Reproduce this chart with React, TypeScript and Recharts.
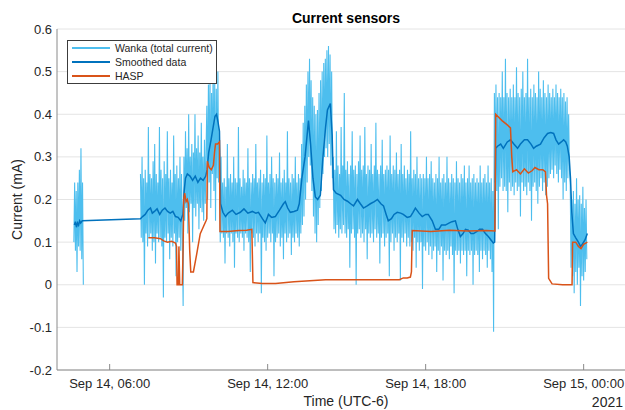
import { LineChart, Line, XAxis, YAxis, CartesianGrid, Legend } from "recharts";

// Times are hours since Sep 14 00:00 (UTC-6), values in mA.
// Wanka samples come in at a fixed rate, so each block is stored as start + values.
const WANKA_STEP = 0.03;

const wankaEarlyStart = 4.64;
const wankaEarly = [0.10, 0.24, 0.08, 0.22, 0.03, 0.24, 0.09, 0.27, 0.08, 0.32, 0.06, 0.24, 0.00];

const wankaMainStart = 7.17;
const wankaMain = [
  // 07:10 - 08:45
  0.26, 0.11, 0.30, 0.10, 0.25, 0.00, 0.27, 0.12, 0.24, 0.09,
  0.37, 0.11, 0.26, 0.12, 0.25, 0.08, 0.29, 0.10, 0.33, 0.05,
  0.26, 0.12, 0.24, 0.10, 0.37, 0.11, 0.27, 0.09, 0.25, -0.03,
  0.29, 0.11, 0.26, 0.10, 0.36, 0.12, 0.25, 0.06, 0.27, 0.11,
  0.24, 0.09, 0.35, 0.12, 0.26, 0.02, 0.28, 0.10, 0.25, 0.11,
  0.30, 0.08, 0.26, 0.12,
  // 08:45 - 09:40
  -0.05, 0.30, 0.15, 0.36, 0.18, 0.32, 0.12, 0.40, 0.17, 0.30,
  0.19, 0.33, 0.10, 0.31, 0.18, 0.40, 0.16, 0.32, 0.19, 0.35,
  0.13, 0.31, 0.18, 0.38, 0.17, 0.30, 0.15, 0.34, 0.19, 0.31,
  // 09:40 - 10:10 bump
  0.42, 0.20, 0.47, 0.24, 0.50, 0.18, 0.45, 0.26, 0.52, 0.22, 0.48, 0.15, 0.46, 0.25, 0.50, 0.24,
  // 10:10 - 13:15
  0.26, 0.10, 0.30, 0.12, 0.24, 0.11, 0.25, 0.05, 0.23, 0.12,
  0.33, 0.11, 0.25, 0.09, 0.26, 0.12, 0.24, 0.10, 0.30, 0.04,
  0.25, 0.12, 0.24, 0.11, 0.37, 0.10, 0.25, 0.12, 0.23, 0.11,
  0.27, 0.08, 0.25, 0.12, 0.24, 0.11, 0.32, 0.10, 0.25, 0.03,
  0.24, 0.12, 0.26, 0.11, 0.25, 0.09, 0.33, 0.12, 0.24, 0.10,
  0.25, 0.12, 0.27, -0.02, 0.24, 0.11, 0.26, 0.10, 0.25, 0.08,
  0.35, 0.11, 0.24, 0.12, 0.26, 0.10, 0.30, 0.12, 0.25, 0.02,
  0.24, 0.10, 0.26, 0.11, 0.25, 0.12, 0.31, 0.09, 0.24, 0.11,
  0.25, 0.06, 0.27, 0.12, 0.24, 0.10, 0.36, 0.11, 0.25, 0.12,
  0.24, 0.07, 0.26, 0.11, 0.25, 0.10, 0.30, 0.12, 0.24, 0.11,
  0.26, 0.09, 0.25, 0.12,
  // 13:15 - 14:30 double peak
  0.33, 0.14, 0.38, 0.16, 0.42, 0.20, 0.47, 0.24, 0.50, 0.30,
  0.53, 0.28, 0.48, 0.22, 0.44, 0.16, 0.42, 0.12, 0.40, 0.10,
  0.41, 0.14, 0.45, 0.18, 0.48, 0.22, 0.50, 0.26, 0.52, 0.30,
  0.53, 0.32, 0.55, 0.30, 0.56, 0.33, 0.54, 0.28, 0.50, 0.25,
  // 14:30 - 20:35
  0.30, 0.13, 0.27, 0.12, 0.36, 0.14, 0.28, 0.11, 0.26, 0.13, 0.37, 0.12,
  0.28, 0.14, 0.45, 0.12, 0.27, 0.11, 0.29, 0.13, 0.26, 0.04, 0.28, 0.12,
  0.36, 0.13, 0.27, 0.11, 0.28, 0.00, 0.26, 0.12, 0.29, 0.13, 0.35, 0.11,
  0.27, 0.12, 0.28, 0.10, 0.37, 0.13, 0.26, 0.06, 0.28, 0.12, 0.27, 0.11,
  0.33, 0.12, 0.26, 0.10, 0.28, 0.13, 0.38, 0.11, 0.27, 0.12, 0.26, 0.05,
  0.28, 0.11, 0.34, 0.12, 0.26, 0.09, 0.27, 0.11, 0.28, 0.12, 0.27, 0.02,
  0.35, 0.10, 0.26, 0.12, 0.28, 0.08, 0.27, 0.11, 0.31, 0.10, 0.26, 0.12,
  0.27, 0.01, 0.33, 0.11, 0.26, 0.10, 0.28, 0.12, 0.25, 0.09, 0.27, 0.11,
  0.26, 0.09, 0.36, 0.10, 0.25, 0.08, 0.27, 0.11, 0.26, 0.04, 0.30, 0.10,
  0.25, 0.08, 0.26, 0.10, 0.25, -0.01, 0.26, 0.09, 0.25, 0.08, 0.30, 0.10,
  0.25, 0.07, 0.26, 0.09, 0.29, 0.06, 0.25, 0.08, 0.24, 0.09, 0.26, 0.03,
  0.25, 0.08, 0.30, 0.07, 0.24, 0.09, 0.25, 0.01, 0.26, 0.08, 0.24, 0.07,
  0.30, 0.08, 0.25, 0.06, 0.24, 0.09, 0.26, 0.07, 0.25, -0.02, 0.24, 0.08,
  0.29, 0.07, 0.25, 0.08, 0.24, 0.05, 0.26, 0.08, 0.25, 0.07, 0.28, 0.08,
  0.24, 0.02, 0.25, 0.08, 0.28, 0.07, 0.24, 0.08, 0.25, 0.00, 0.26, 0.07,
  0.24, 0.08, 0.25, 0.07, 0.24, 0.03, 0.28, 0.08, 0.24, 0.06, 0.25, 0.08,
  0.26, 0.07, 0.24, 0.04, 0.28, 0.08, 0.24, 0.06, 0.25, 0.03, 0.22, -0.11,
  // 20:35 - 23:30 high plateau
  0.45, 0.24, 0.47, 0.22, 0.44, 0.13, 0.45, 0.23, 0.44, 0.25, 0.50, 0.22,
  0.44, 0.23, 0.53, 0.22, 0.45, 0.17, 0.44, 0.24, 0.46, 0.22, 0.44, 0.23,
  0.47, 0.21, 0.44, 0.24, 0.51, 0.22, 0.45, 0.23, 0.44, 0.16, 0.46, 0.24,
  0.50, 0.22, 0.44, 0.23, 0.45, 0.21, 0.53, 0.24, 0.44, 0.22, 0.46, 0.15,
  0.44, 0.23, 0.47, 0.24, 0.45, 0.22, 0.44, 0.19, 0.50, 0.23, 0.46, 0.25,
  0.44, 0.22, 0.48, 0.24, 0.45, 0.21, 0.44, 0.23, 0.47, 0.25, 0.45, 0.26,
  0.44, 0.27, 0.46, 0.25, 0.44, 0.28, 0.47, 0.26, 0.45, 0.24, 0.44, 0.27,
  0.46, 0.25, 0.44, 0.20, 0.45, 0.24, 0.43, 0.22, 0.44, 0.25, 0.40, 0.27,
  // 23:30 - 00:05
  0.24, 0.04, 0.20, 0.02, 0.22, -0.02, 0.19, 0.03, 0.25, 0.00, 0.20,
  0.04, 0.21, -0.05, 0.19, 0.02, 0.23, 0.01, 0.18, 0.03, 0.20, 0.06,
];

const smoothed: [number, number][] = [
  [4.66, 0.14], [4.7, 0.148], [4.74, 0.135], [4.78, 0.145], [4.82, 0.14], [4.86, 0.15], [4.9, 0.145], [4.96, 0.15],
  [7.17, 0.155], [7.25, 0.16], [7.35, 0.165], [7.45, 0.175], [7.55, 0.18], [7.62, 0.168], [7.7, 0.172], [7.8, 0.178],
  [7.9, 0.165], [8.0, 0.175], [8.1, 0.18], [8.2, 0.172], [8.3, 0.168], [8.4, 0.172], [8.5, 0.16], [8.6, 0.158],
  [8.7, 0.15], [8.78, 0.165], [8.83, 0.22], [8.88, 0.25], [8.95, 0.26], [9.05, 0.255], [9.15, 0.245], [9.25, 0.255],
  [9.35, 0.24], [9.45, 0.25], [9.55, 0.245], [9.65, 0.255], [9.7, 0.27], [9.76, 0.31], [9.85, 0.34], [9.93, 0.37],
  [10.0, 0.395], [10.06, 0.4], [10.12, 0.38], [10.17, 0.36], [10.21, 0.19], [10.3, 0.17], [10.4, 0.16], [10.5, 0.168],
  [10.66, 0.175], [10.8, 0.165], [10.96, 0.17], [11.1, 0.178], [11.25, 0.168], [11.42, 0.172], [11.55, 0.168],
  [11.65, 0.17], [11.8, 0.155], [11.91, 0.145], [12.03, 0.165], [12.15, 0.158], [12.29, 0.16], [12.45, 0.175],
  [12.6, 0.19], [12.67, 0.195], [12.76, 0.18], [12.86, 0.17], [13.0, 0.172], [13.13, 0.175], [13.2, 0.19],
  [13.3, 0.25], [13.42, 0.3], [13.55, 0.385], [13.63, 0.33], [13.72, 0.25], [13.81, 0.206], [13.9, 0.2], [14.0, 0.21],
  [14.1, 0.3], [14.2, 0.37], [14.27, 0.41], [14.38, 0.425], [14.45, 0.35], [14.5, 0.223], [14.6, 0.215], [14.77, 0.21],
  [14.9, 0.2], [15.03, 0.196], [15.15, 0.19], [15.26, 0.185], [15.41, 0.2], [15.52, 0.19], [15.64, 0.18], [15.78, 0.185],
  [15.9, 0.19], [16.05, 0.195], [16.17, 0.2], [16.3, 0.19], [16.4, 0.185], [16.5, 0.165], [16.58, 0.15], [16.7, 0.155],
  [16.8, 0.165], [16.92, 0.17], [17.05, 0.168], [17.15, 0.165], [17.3, 0.158], [17.42, 0.16], [17.52, 0.17],
  [17.61, 0.18], [17.75, 0.168], [17.87, 0.16], [18.0, 0.165], [18.1, 0.165], [18.25, 0.15], [18.37, 0.13],
  [18.5, 0.13], [18.6, 0.14], [18.75, 0.14], [18.9, 0.145], [19.0, 0.148], [19.13, 0.15], [19.22, 0.13],
  [19.32, 0.113], [19.42, 0.12], [19.51, 0.13], [19.62, 0.128], [19.72, 0.12], [19.82, 0.12], [19.95, 0.125],
  [20.05, 0.13], [20.16, 0.13], [20.27, 0.12], [20.38, 0.113], [20.48, 0.105], [20.57, 0.098], [20.62, 0.1],
  [20.66, 0.32], [20.73, 0.325], [20.85, 0.33], [20.95, 0.32], [21.1, 0.335], [21.22, 0.34], [21.35, 0.33],
  [21.49, 0.32], [21.6, 0.33], [21.75, 0.34], [21.87, 0.34], [22.0, 0.33], [22.1, 0.32], [22.2, 0.325], [22.36, 0.33],
  [22.5, 0.345], [22.63, 0.355], [22.75, 0.357], [22.86, 0.355], [22.95, 0.34], [23.05, 0.33], [23.15, 0.335],
  [23.24, 0.34], [23.32, 0.335], [23.38, 0.325], [23.45, 0.3], [23.5, 0.25], [23.55, 0.17], [23.61, 0.12],
  [23.7, 0.11], [23.8, 0.1], [23.88, 0.09], [23.95, 0.095], [24.05, 0.105], [24.14, 0.12],
];

const hasp: [number, number][] = [
  [7.47, 0.11], [7.7, 0.11], [7.93, 0.108], [8.05, 0.103], [8.2, 0.1], [8.35, 0.102], [8.5, 0.098], [8.54, 0.09],
  [8.56, 0.0], [8.61, 0.0], [8.63, 0.09], [8.66, 0.0], [8.76, 0.0], [8.79, 0.09], [8.81, 0.2], [8.85, 0.215],
  [8.9, 0.195], [8.95, 0.2], [8.99, 0.19], [9.04, 0.08], [9.08, 0.03], [9.18, 0.03], [9.3, 0.07], [9.44, 0.12],
  [9.55, 0.135], [9.66, 0.15], [9.69, 0.155], [9.71, 0.29], [9.78, 0.275], [9.86, 0.27], [9.94, 0.28], [9.98, 0.31],
  [10.02, 0.33], [10.1, 0.33], [10.17, 0.335], [10.19, 0.125], [10.5, 0.125], [10.9, 0.127], [11.2, 0.128],
  [11.4, 0.13], [11.44, 0.005], [11.8, 0.003], [12.3, 0.003], [13.0, 0.007], [14.2, 0.012], [15.5, 0.012],
  [17.0, 0.012], [17.15, 0.016], [17.3, 0.016], [17.42, 0.018], [17.46, 0.03], [17.49, 0.127], [18.2, 0.125],
  [18.9, 0.128], [19.6, 0.126], [20.3, 0.127], [20.63, 0.126], [20.66, 0.4], [20.9, 0.385], [21.1, 0.375],
  [21.22, 0.368], [21.27, 0.3], [21.31, 0.265], [21.45, 0.27], [21.6, 0.26], [21.75, 0.272], [21.9, 0.262],
  [22.05, 0.268], [22.15, 0.275], [22.3, 0.27], [22.45, 0.27], [22.55, 0.265], [22.59, 0.21], [22.63, 0.19],
  [22.67, 0.015], [22.8, 0.002], [23.2, 0.0], [23.56, 0.0], [23.58, 0.1], [23.7, 0.1], [23.8, 0.09], [23.9, 0.085],
  [24.0, 0.095], [24.14, 0.1],
];

const yTicks = [-0.2, -0.1, 0, 0.1, 0.2, 0.3, 0.4, 0.5, 0.6];
const xTicks = [6, 12, 18, 24];
const xTickLabels = ["Sep 14, 06:00", "Sep 14, 12:00", "Sep 14, 18:00", "Sep 15, 00:00"];

const WANKA_COLOR = "#4DBEEE";
const SMOOTH_COLOR = "#0072BD";
const HASP_COLOR = "#D95319";
const AXIS_COLOR = "#8a8a8a";
const TEXT_COLOR = "#262626";
const FONT = '"Liberation Sans", Arial, Helvetica, sans-serif';

const sampled = (start: number, values: number[]) =>
  values.map((v, i) => ({ t: +(start + i * WANKA_STEP).toFixed(3), v }));
const pairs = (rows: [number, number][]) => rows.map(([t, v]) => ({ t, v }));

const wankaEarlyData = sampled(wankaEarlyStart, wankaEarly);
const wankaMainData = sampled(wankaMainStart, wankaMain);
const smoothedData = pairs(smoothed);
const haspData = pairs(hasp);

const legendItems = [
  { label: "Wanka (total current)", color: WANKA_COLOR },
  { label: "Smoothed data", color: SMOOTH_COLOR },
  { label: "HASP", color: HASP_COLOR },
];

const BottomTick = ({ x, y, payload }: any) => {
  const idx = xTicks.indexOf(payload.value);
  return (
    <g>
      <line x1={x} x2={x} y1={y} y2={y - 6} stroke={AXIS_COLOR} />
      <text x={x} y={y + 17.5} textAnchor="middle" fontSize={13} fill={TEXT_COLOR}>
        {xTickLabels[idx]}
      </text>
    </g>
  );
};

const TopTick = ({ x, y }: any) => <line x1={x} x2={x} y1={y} y2={y + 6} stroke={AXIS_COLOR} />;

const LegendBox = () => (
  <div
    style={{
      width: 150,
      height: 44,
      boxSizing: "border-box",
      background: "#fff",
      border: "1px solid #3c3c3c",
      fontFamily: FONT,
    }}
  >
    {legendItems.map((item) => (
      <div key={item.label} style={{ display: "flex", alignItems: "center", height: 14 }}>
        <span style={{ width: 38, height: 0, borderTop: `2px solid ${item.color}`, marginLeft: 4, marginRight: 5 }} />
        <span style={{ fontSize: 10.5, color: TEXT_COLOR, lineHeight: "14px", whiteSpace: "nowrap" }}>
          {item.label}
        </span>
      </div>
    ))}
  </div>
);

export default function App() {
  return (
    <div
      style={{
        position: "absolute",
        top: 0,
        left: 0,
        width: 625,
        height: 410,
        overflow: "hidden",
        background: "#fff",
        fontFamily: FONT,
      }}
    >
      <LineChart width={635} height={410} margin={{ top: 29, right: 0, bottom: 0, left: 0 }}>
        <CartesianGrid vertical={false} stroke="#e4e4e4" />
        <XAxis
          dataKey="t"
          type="number"
          domain={[4, 25.95]}
          ticks={xTicks}
          interval={0}
          height={40}
          tickSize={0}
          tickMargin={0}
          tickLine={false}
          axisLine={{ stroke: AXIS_COLOR }}
          tick={<BottomTick />}
          label={{ value: "Time (UTC-6)", position: "insideBottom", offset: 4, fontSize: 14, fill: TEXT_COLOR }}
        />
        <XAxis
          xAxisId="top"
          orientation="top"
          dataKey="t"
          type="number"
          domain={[4, 25.95]}
          ticks={xTicks}
          interval={0}
          height={0}
          tickSize={0}
          tickMargin={0}
          tickLine={false}
          axisLine={{ stroke: AXIS_COLOR }}
          tick={<TopTick />}
        />
        <YAxis
          type="number"
          domain={[-0.2, 0.6]}
          ticks={yTicks}
          interval={0}
          width={57}
          tickSize={0}
          tickMargin={5}
          tickLine={false}
          axisLine={{ stroke: AXIS_COLOR }}
          tick={{ fontSize: 13, fill: TEXT_COLOR }}
          tickFormatter={(v: number) => (v === 0 ? "0" : String(v))}
        />
        <Legend
          layout="vertical"
          align="center"
          verticalAlign="middle"
          wrapperStyle={{ left: 67, top: 40, width: 150, height: 44 }}
          content={() => <LegendBox />}
        />
        <Line
          data={wankaEarlyData}
          dataKey="v"
          name="Wanka (total current)"
          stroke={WANKA_COLOR}
          strokeWidth={1.1}
          strokeLinejoin="miter"
          dot={false}
          isAnimationActive={false}
        />
        <Line
          data={wankaMainData}
          dataKey="v"
          name="Wanka (total current)"
          stroke={WANKA_COLOR}
          strokeWidth={1.1}
          strokeLinejoin="miter"
          dot={false}
          isAnimationActive={false}
        />
        <Line
          data={smoothedData}
          dataKey="v"
          name="Smoothed data"
          stroke={SMOOTH_COLOR}
          strokeWidth={1.5}
          dot={false}
          isAnimationActive={false}
        />
        <Line
          data={haspData}
          dataKey="v"
          name="HASP"
          stroke={HASP_COLOR}
          strokeWidth={1.5}
          dot={false}
          isAnimationActive={false}
        />
      </LineChart>
      <svg
        width={625}
        height={410}
        style={{ position: "absolute", top: 0, left: 0, pointerEvents: "none" }}
      >
        <text x={346} y={22.7} textAnchor="middle" fontSize={14} fontWeight="bold" fill="#000">
          Current sensors
        </text>
        <text
          x={17}
          y={199.5}
          transform="rotate(-90, 17, 199.5)"
          textAnchor="middle"
          dominantBaseline="central"
          fontSize={14}
          fill={TEXT_COLOR}
        >
          Current (mA)
        </text>
        <text x={623} y={406.5} textAnchor="end" fontSize={14} fill={TEXT_COLOR}>
          2021
        </text>
      </svg>
    </div>
  );
}
